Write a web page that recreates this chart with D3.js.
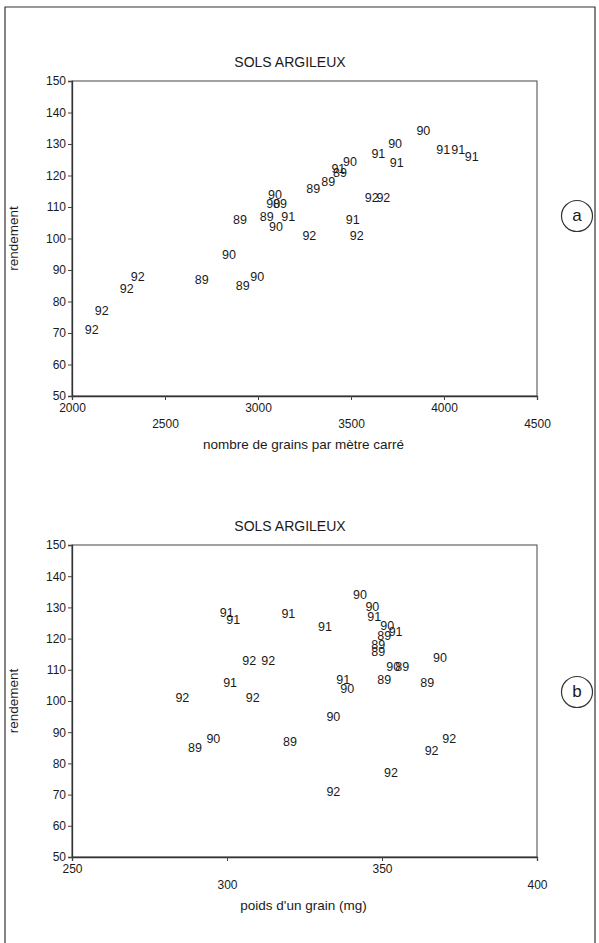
<!DOCTYPE html>
<html>
<head>
<meta charset="utf-8">
<script src="https://cdn.jsdelivr.net/npm/d3@7"></script>
<style>
  body { margin: 0; background: #fff; }
  svg text { font-family: "Liberation Sans", Arial, sans-serif; fill: #1a1a1a; }
</style>
</head>
<body>
<div id="chart"></div>
<script>
// one entry per plot: year of harvest, grains per m2, grain weight (mg), yield
const years = [
  "92", "92", "92", "92", "92", "92", "92", "92",
  "91", "91", "91", "91", "91", "91", "91", "91",
  "90", "90", "90", "90", "90", "90", "90", "90",
  "89", "89", "89", "89", "89", "89", "89", "89"
];
const grains = [
  2106, 2160, 2294, 2353, 3276, 3531, 3611, 3674,
  3163, 3509, 3432, 3746, 3647, 3996, 4077, 4149,
  2844, 2996, 3097, 3091, 3082, 3495, 3737, 3889,
  2697, 2918, 2903, 3047, 3118, 3297, 3378, 3441
];
const poids = [
  334.3, 352.9, 366.0, 371.7, 308.3, 285.6, 313.3, 307.2,
  337.5, 301.0, 354.4, 331.6, 347.5, 319.8, 299.9, 302.0,
  334.3, 295.6, 338.8, 368.7, 353.6, 351.7, 346.9, 342.9,
  320.3, 289.7, 364.6, 350.7, 356.5, 348.8, 348.8, 350.7
];
const rendement = [
  71.0, 77.0, 84.0, 87.9, 101.0, 101.0, 113.1, 113.1,
  107.0, 106.0, 122.2, 124.0, 127.1, 128.1, 128.3, 126.1,
  94.9, 87.9, 103.9, 114.1, 111.0, 124.3, 130.2, 134.2,
  86.9, 85.0, 106.0, 106.9, 111.0, 116.0, 118.2, 121.1
];

const yTicks = [50, 60, 70, 80, 90, 100, 110, 120, 130, 140, 150];
const grainTicks = [2000, 2500, 3000, 3500, 4000, 4500];
const poidsTicks = [250, 300, 350, 400];

const titleText = "SOLS ARGILEUX";
const yLabel = "rendement";

const data = years.map((y, i) => ({
  year: y, grains: grains[i], poids: poids[i], rendement: rendement[i]
}));

const W = 599, H = 943;
const svg = d3.select("#chart")
  .append("svg")
  .attr("width", W)
  .attr("height", H);

// scanned page frame
svg.append("path")
  .attr("d", "M5,943 L5,7 L595,7 L595,943")
  .attr("fill", "none")
  .attr("stroke", "#333")
  .attr("stroke-width", 1.2);

function drawPanel(opts) {
  const { top, height, xKey, xDomain, xTicks, xTitle, letter, letterY } = opts;
  const left = 72, width = 465;

  const g = svg.append("g")
    .attr("transform", `translate(${left}, ${top})`);

  const x = d3.scaleLinear().domain(xDomain).range([0, width]);
  const y = d3.scaleLinear().domain([50, 150]).range([height, 0]);

  // title
  g.append("text")
    .attr("x", 218)
    .attr("y", -14)
    .attr("text-anchor", "middle")
    .style("font-size", "14px")
    .text(titleText);

  // plot frame
  g.append("rect")
    .attr("width", width)
    .attr("height", height)
    .attr("fill", "none")
    .attr("stroke", "#444")
    .attr("stroke-width", 1);

  const yAxis = g.append("g")
    .call(d3.axisLeft(y).tickValues(yTicks).tickSize(4).tickPadding(2));
  yAxis.select(".domain").attr("stroke", "#333").attr("stroke-width", 1.3);
  yAxis.selectAll("line").attr("stroke", "#444");
  yAxis.selectAll("text").style("font-size", "12px");

  const xAxis = g.append("g")
    .attr("transform", `translate(0, ${height})`)
    .call(d3.axisBottom(x).tickValues(xTicks).tickSize(4).tickPadding(2).tickFormat(d3.format("d")));
  xAxis.select(".domain").attr("stroke", "#333").attr("stroke-width", 1.3);
  xAxis.selectAll("line").attr("stroke", "#444");
  // alternate tick labels sit on a lower row
  xAxis.selectAll("text")
    .style("font-size", "12px")
    .attr("y", (d, i) => i % 2 === 0 ? 7 : 23);

  g.append("text")
    .attr("x", width / 2 - 1)
    .attr("y", height + 53)
    .attr("text-anchor", "middle")
    .style("font-size", "13.5px")
    .text(xTitle);

  g.append("text")
    .attr("transform", `translate(-54, ${height / 2}) rotate(-90)`)
    .attr("text-anchor", "middle")
    .style("font-size", "13.5px")
    .text(yLabel);

  // year labels used as point markers
  g.selectAll("text.pt")
    .data(data)
    .enter()
    .append("text")
    .attr("class", "pt")
    .attr("x", d => x(d[xKey]))
    .attr("y", d => y(d.rendement))
    .attr("dy", "0.36em")
    .attr("text-anchor", "middle")
    .style("font-size", "12.5px")
    .text(d => d.year);

  // panel letter in a circle
  g.append("circle")
    .attr("cx", 505)
    .attr("cy", letterY)
    .attr("r", 15.5)
    .attr("fill", "none")
    .attr("stroke", "#333")
    .attr("stroke-width", 1.2);

  g.append("text")
    .attr("x", 505)
    .attr("y", letterY)
    .attr("dy", "0.32em")
    .attr("text-anchor", "middle")
    .style("font-size", "17px")
    .text(letter);
}

drawPanel({
  top: 81, height: 315, xKey: "grains", xDomain: [2000, 4500],
  xTicks: grainTicks, xTitle: "nombre de grains par mètre carré",
  letter: "a", letterY: 135
});

drawPanel({
  top: 545, height: 312, xKey: "poids", xDomain: [250, 400],
  xTicks: poidsTicks, xTitle: "poids d'un grain (mg)",
  letter: "b", letterY: 147
});
</script>
</body>
</html>
